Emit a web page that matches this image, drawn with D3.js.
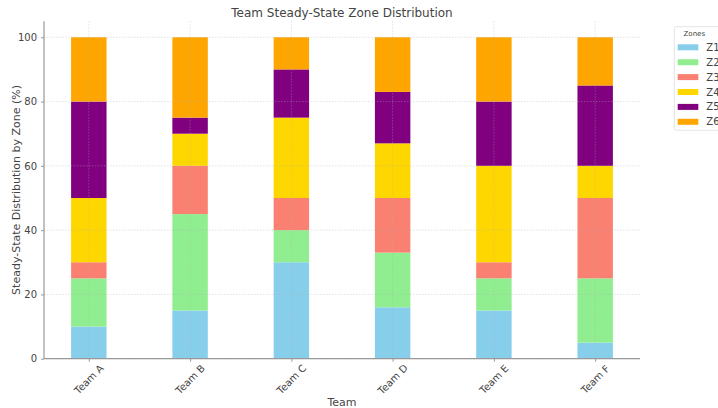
<!DOCTYPE html>
<html><head><meta charset="utf-8">
<script src="https://cdn.jsdelivr.net/npm/d3@7"></script>
<style>body{margin:0;background:#fff}svg{display:block;font-family:"DejaVu Sans",sans-serif}</style>
</head><body><svg id="c" width="718" height="408"></svg>
<script>
const teams = ["Team A","Team B","Team C","Team D","Team E","Team F"];
const zones = ["Z1","Z2","Z3","Z4","Z5","Z6"];
const z1 = [10,15,30,16,15,5];
const z2 = [15,30,10,17,10,20];
const z3 = [5,15,10,17,5,25];
const z4 = [20,10,25,17,30,10];
const z5 = [30,5,15,16,20,25];
const z6 = [20,25,10,17,20,15];
const yTicks = [0,20,40,60,80,100];
const colors = ["#87CEEB","#90EE90","#FA8072","#FFD700","#800080","#FFA500"];

const series = [z1,z2,z3,z4,z5,z6];
const rows = teams.map((t,i)=>{const r={team:t}; zones.forEach((z,j)=>r[z]=series[j][i]); return r;});
const stack = d3.stack().keys(zones)(rows);

const svg = d3.select("#c");
const L=44, R=640, T=21.2, B=358.7;
const x = d3.scaleLinear().domain([-0.4425,5.4425]).range([L,R]);
const y = d3.scaleLinear().domain([0,105]).range([B,T]);
const bw = x(0.35)-x(0);
const txt="#444";

// bars
svg.append("g").selectAll("g").data(stack).join("g")
  .attr("fill",(d,i)=>colors[i])
  .selectAll("rect").data(d=>d).join("rect")
  .attr("x",(d,i)=>x(i)-bw/2).attr("width",bw)
  .attr("y",d=>y(d[1])).attr("height",d=>y(d[0])-y(d[1]));

// grid
const g = svg.append("g").attr("stroke","#b0b0b0").attr("stroke-opacity",0.45).attr("stroke-dasharray","1.5,1.5").attr("stroke-width",0.8);
g.selectAll(".gy").data(yTicks).join("line").attr("x1",L).attr("x2",R).attr("y1",d=>y(d)).attr("y2",d=>y(d));
g.selectAll(".gx").data(teams).join("line").attr("x1",(d,i)=>x(i)).attr("x2",(d,i)=>x(i)).attr("y1",T).attr("y2",B);

// axes
const yAxis = d3.axisLeft(y).tickValues(yTicks).tickSize(3).tickPadding(4);
const ya = svg.append("g").attr("transform",`translate(${L},0)`).call(yAxis);
ya.select(".domain").attr("stroke","#999").attr("stroke-width",1.2).attr("d",`M0,${T}V${B}`);
ya.selectAll(".tick line").attr("stroke","#999");
ya.selectAll("text").attr("fill",txt).style("font-size","10px").style("font-family","DejaVu Sans");

const xAxis = d3.axisBottom(x).tickValues(d3.range(teams.length)).tickFormat(i=>teams[i]).tickSize(3).tickPadding(4);
const xa = svg.append("g").attr("transform",`translate(0,${B})`).call(xAxis);
xa.select(".domain").attr("stroke","#999").attr("stroke-width",1.2).attr("d",`M${L},0H${R}`);
xa.selectAll(".tick line").attr("stroke","#999");
xa.selectAll("text").attr("fill",txt).style("font-size","10px").style("font-family","DejaVu Sans")
  .attr("text-anchor","middle").attr("dy",null).attr("y",null)
  .attr("transform","translate(0,21) rotate(-45)").attr("dominant-baseline","middle");

// labels
svg.append("text").attr("x",(L+R)/2).attr("y",17).attr("text-anchor","middle").attr("fill",txt).style("font-size","12px").text("Team Steady-State Zone Distribution");
svg.append("text").attr("x",(L+R)/2).attr("y",406).attr("text-anchor","middle").attr("fill",txt).style("font-size","11px").text("Team");
svg.append("text").attr("transform",`translate(20,${(T+B)/2}) rotate(-90)`).attr("text-anchor","middle").attr("fill",txt).style("font-size","11px").text("Steady-State Distribution by Zone (%)");

// legend
const lg = svg.append("g").attr("transform","translate(674.3,26.7)");
lg.append("rect").attr("width",60).attr("height",103.5).attr("rx",2).attr("fill","#fff").attr("stroke","#ddd").attr("stroke-width",0.8);
lg.append("text").attr("x",20).attr("y",9.5).attr("text-anchor","middle").attr("fill",txt).style("font-size","7px").text("Zones");
const it = lg.selectAll(".it").data(zones).join("g").attr("transform",(d,i)=>`translate(0,${20.6+i*14.9})`);
it.append("rect").attr("x",3.4).attr("y",-3).attr("width",20.6).attr("height",6).attr("fill",(d,i)=>colors[i]);
it.append("text").attr("x",32).attr("y",0).attr("dominant-baseline","central").attr("fill",txt).style("font-size","10px").text(d=>d);
</script></body></html>
